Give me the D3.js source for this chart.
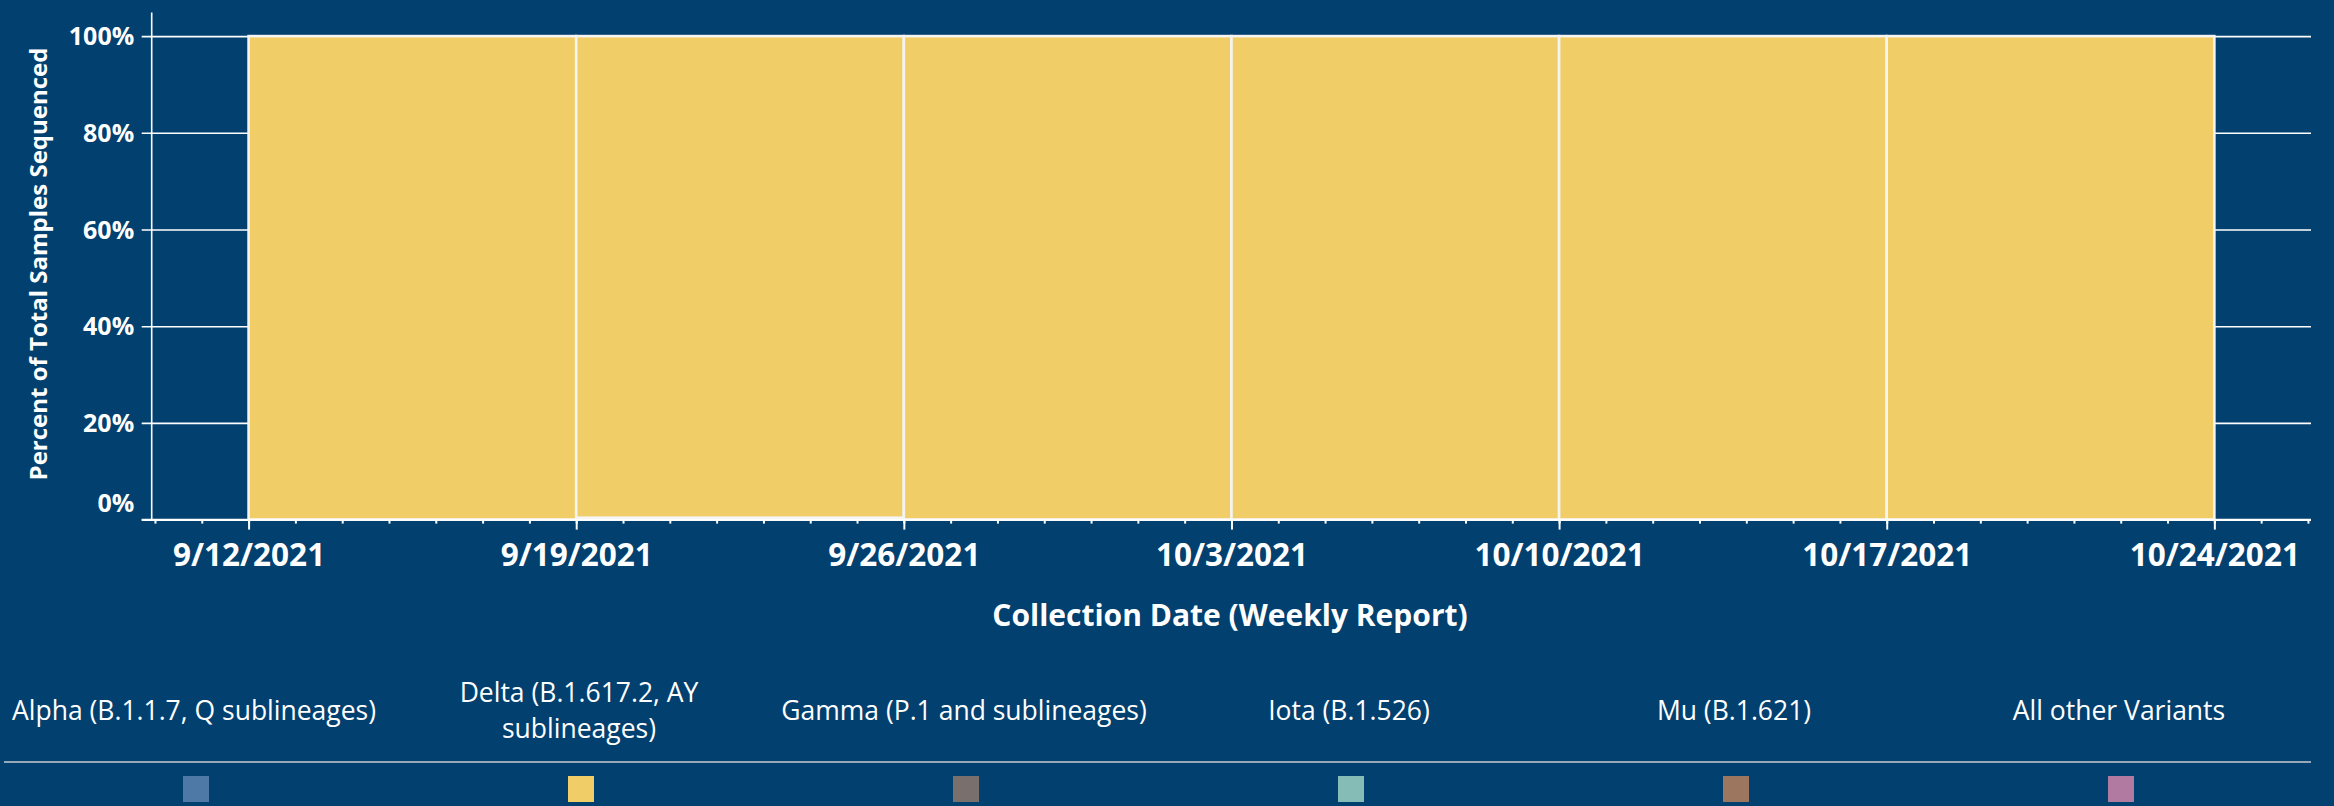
<!DOCTYPE html>
<html>
<head>
<meta charset="utf-8">
<script src="https://cdn.jsdelivr.net/npm/d3@7"></script>
<style>
  html, body { margin: 0; padding: 0; background: #02406F; }
  svg { display: block; }
  text { font-family: "Open Sans", "Noto Sans", sans-serif; fill: #ffffff; }
</style>
</head>
<body>
<div id="chart"></div>
<script>
// week start dates (each bar covers one week)
var weeks = ["2021-09-12", "2021-09-19", "2021-09-26", "2021-10-03", "2021-10-10", "2021-10-17"];
var tickDates = ["2021-09-12", "2021-09-19", "2021-09-26", "2021-10-03", "2021-10-10", "2021-10-17", "2021-10-24"];

var variants = ["Alpha (B.1.1.7, Q sublineages)", "Delta (B.1.617.2, AY sublineages)",
                "Gamma (P.1 and sublineages)", "Iota (B.1.526)", "Mu (B.1.621)", "All other Variants"];
var variantColors = ["#4E79A7", "#F0CD66", "#79706E", "#86BCB6", "#9D7660", "#B07AA1"];

// percent of samples sequenced, per week
var alpha = [0, 0.4, 0, 0, 0, 0];
var delta = [100, 99.6, 100, 100, 100, 100];
var gamma = [0, 0, 0, 0, 0, 0];
var iota  = [0, 0, 0, 0, 0, 0];
var mu    = [0, 0, 0, 0, 0, 0];
var other = [0, 0, 0, 0, 0, 0];

var yTicks = [0, 20, 40, 60, 80, 100];

var width = 2334,
    height = 806,
    DAY = 864e5,
    bg = "#02406F";

var parse = d3.utcParse("%Y-%m-%d");
var series = [alpha, delta, gamma, iota, mu, other];

var rows = weeks.map(function (w, i) {
  var r = {date: parse(w)};
  variants.forEach(function (v, k) { r[v] = series[k][i]; });
  return r;
});

var x = d3.scaleUtc()
    .domain([new Date(+parse("2021-09-12") - 2.07 * DAY), new Date(+parse("2021-10-24") + 2.065 * DAY)])
    .range([151.7, 2311]);
var y = d3.scaleLinear().domain([0, 100]).range([519.6, 36.1]);
var z = d3.scaleOrdinal().domain(variants).range(variantColors);

var svg = d3.select("#chart").append("svg")
    .attr("width", width)
    .attr("height", height)
    .style("background", bg);

// gridlines + y labels (one axis drawn from the right edge)
var gridLen = x.range()[1] - 141.7;
var gy = svg.append("g")
    .attr("class", "axis y")
    .attr("transform", "translate(" + x.range()[1] + ",0)")
    .call(d3.axisLeft(y).tickValues(yTicks).tickSize(gridLen).tickPadding(7.5)
        .tickFormat(function (d) { return d + "%"; }));
gy.select(".domain").remove();
gy.selectAll(".tick line").attr("stroke", "#ffffff").attr("stroke-width", 1.6);
gy.selectAll(".tick text")
    .attr("fill", "#ffffff")
    .style("font-size", "25px")
    .style("font-weight", 700)
    .attr("dy", function (d) { return d === 0 ? "-0.32em" : "0.34em"; });

// stacked weekly bars
var stack = d3.stack().keys(variants)(rows);
svg.append("g")
    .attr("class", "bars")
    .selectAll("g")
    .data(stack).enter()
    .append("g")
    .attr("fill", function (d) { return z(d.key); })
    .selectAll("rect")
    .data(function (d) { return d.filter(function (p) { return p[1] - p[0] > 0; }); })
    .enter().append("rect")
    .attr("x", function (d) { return x(d.data.date); })
    .attr("width", function (d) { return x(new Date(+d.data.date + 7 * DAY)) - x(d.data.date); })
    .attr("y", function (d) { return y(d[1]); })
    .attr("height", function (d) { return y(d[0]) - y(d[1]); })
    .attr("stroke", "#F4F4F4")
    .attr("stroke-width", 2.6);

// axis lines
svg.append("line")
    .attr("x1", x.range()[0]).attr("x2", x.range()[0])
    .attr("y1", 12.5).attr("y2", y(0) + 1)
    .attr("stroke", "#ffffff").attr("stroke-width", 1.6);
svg.append("line")
    .attr("x1", 141.7).attr("x2", x.range()[1])
    .attr("y1", y(0)).attr("y2", y(0))
    .attr("stroke", "#ffffff").attr("stroke-width", 1.6);

// daily minor ticks
var gMinor = svg.append("g")
    .attr("transform", "translate(0," + y(0) + ")")
    .call(d3.axisBottom(x).ticks(d3.utcDay.every(1)).tickSize(4).tickFormat(""));
gMinor.select(".domain").remove();
gMinor.selectAll(".tick line").attr("stroke", "#ffffff").attr("stroke-width", 2);

// weekly major ticks with labels
var fmt = d3.utcFormat("%-m/%-d/%Y");
var gx = svg.append("g")
    .attr("transform", "translate(0," + y(0) + ")")
    .call(d3.axisBottom(x).tickValues(tickDates.map(parse)).tickSize(10).tickPadding(14).tickFormat(fmt));
gx.select(".domain").remove();
gx.selectAll(".tick line").attr("stroke", "#ffffff").attr("stroke-width", 2);
gx.selectAll(".tick text")
    .attr("fill", "#ffffff")
    .style("font-size", "31.5px")
    .style("font-weight", 700);

// axis titles
svg.append("text")
    .attr("transform", "translate(47,264) rotate(-90)")
    .attr("text-anchor", "middle")
    .style("font-size", "24px")
    .style("font-weight", 700)
    .text("Percent of Total Samples Sequenced");

svg.append("text")
    .attr("x", 1230)
    .attr("y", 626)
    .attr("text-anchor", "middle")
    .style("font-size", "30px")
    .style("font-weight", 700)
    .text("Collection Date (Weekly Report)");

// legend
var colW = 385, colX0 = 1.5;
var legend = svg.append("g").attr("class", "legend");
var item = legend.selectAll("g")
    .data(variants).enter()
    .append("g")
    .attr("transform", function (d, i) { return "translate(" + (colX0 + colW * (i + 0.5)) + ",0)"; });

item.append("text")
    .attr("text-anchor", "middle")
    .style("font-size", "26.5px")
    .each(function (d) {
      var t = d3.select(this);
      var lines = d === "Delta (B.1.617.2, AY sublineages)" ? ["Delta (B.1.617.2, AY", "sublineages)"] : [d];
      lines.forEach(function (l, j) {
        t.append("tspan")
            .attr("x", 0)
            .attr("y", 720 + (j - (lines.length - 1) / 2) * 36)
            .text(l);
      });
    });

legend.append("line")
    .attr("x1", 4).attr("x2", 2311)
    .attr("y1", 762).attr("y2", 762)
    .attr("stroke", "#C9CDD2").attr("stroke-width", 1.5);

item.append("rect")
    .attr("x", -11)
    .attr("y", 776)
    .attr("width", 26)
    .attr("height", 26)
    .attr("fill", function (d) { return z(d); });
</script>
</body>
</html>
